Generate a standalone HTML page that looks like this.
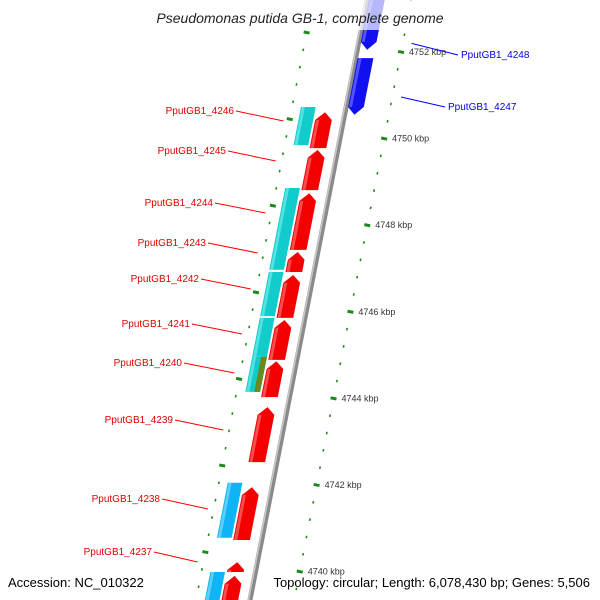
<!DOCTYPE html>
<html><head><meta charset="utf-8"><style>
html,body{margin:0;padding:0;background:#fff;overflow:hidden}
svg{display:block;font-family:"Liberation Sans","DejaVu Sans",sans-serif;overflow:hidden}
</style></head><body>
<svg id="map" width="600" height="600" viewBox="0 0 600 600">
<defs><clipPath id="clip"><rect x="0" y="0" width="600" height="600"/></clipPath></defs>
<g id="layer" clip-path="url(#clip)"></g>
<rect x="0" y="0" width="600" height="30" fill="#fff" opacity="0.7"/>
<text x="300" y="23" text-anchor="middle" font-size="14" font-style="italic" fill="#222">Pseudomonas putida GB-1, complete genome</text>
<text x="8" y="587" font-size="13" fill="#000">Accession: NC_010322</text>
<text x="590" y="587" font-size="13" fill="#000" text-anchor="end">Topology: circular; Length: 6,078,430 bp; Genes: 5,506</text>
</svg>
<script>
// data (kbp)
const redStarts = [4750.61,4749.74,4748.74,4747.38,4746.85,4745.81,4744.86,4743.80,4741.95,4740.22,4739.90];
const redEnds   = [4749.78,4748.81,4747.43,4746.92,4745.86,4744.89,4744.03,4742.53,4740.73,4739.99,4739.30];
const blueStarts = [4753.40,4751.86];
const blueEnds   = [4752.05,4750.55];
const cyanStarts = [4750.73,4748.86,4746.92,4745.86,4744.96];
const cyanEnds   = [4749.85,4746.97,4745.90,4744.96,4744.15];
const skyStarts = [4742.05,4739.99];
const skyEnds   = [4740.78,4739.30];
const redLabels = ["PputGB1_4246","PputGB1_4245","PputGB1_4244","PputGB1_4243","PputGB1_4242","PputGB1_4241","PputGB1_4240","PputGB1_4239","PputGB1_4238","PputGB1_4237"];
const redLabelY = [110,150,202,242,278,323,362,419,498,551];
const redLabelX = [234,226,213,206,199,190,182,173,160,152];
const blueLabels = ["PputGB1_4248","PputGB1_4247"];
const blueLabelY = [54,106];
const blueLabelX = [461,448];
const blueLeaderKbp = [4752.2,4750.96];
const tickKbp = [4752,4750,4748,4746,4744,4742,4740];

const NS="http://www.w3.org/2000/svg";
const L=document.getElementById('layer');
function Y(k){return 52+(4752-k)*43.3;}
function cx(y){return 367-0.195*y;}
function P(k,o){const y=Y(k);return [cx(y)+o*0.982,y];}
function el(t,a,p){const e=document.createElementNS(NS,t);for(const k in a)e.setAttribute(k,a[k]);(p||L).appendChild(e);return e;}
function pts(a){return a.map(p=>p[0].toFixed(1)+','+p[1].toFixed(1)).join(' ');}

// backbone
let b0=[cx(-10),-10],b1=[cx(610),610];
let bb=el('line',{x1:b0[0],y1:b0[1],x2:b1[0],y2:b1[1],stroke:'#8a8a8a','stroke-width':5});


let bh=el('line',{x1:b0[0]-1.5,y1:b0[1],x2:b1[0]-1.5,y2:b1[1],stroke:'#c8c8c8','stroke-width':1.5});



// tick rings
function ring(off,phase,name){
  for(let k=phase+2;k>4737.5;k-=0.4){
    const r=(phase-k)/2;
    const major=Math.abs(r-Math.round(r))<0.01;
    const d=major?3:0.8;
    const c=P(k,off);
    const t=el('line',{x1:c[0]-d*0.982,y1:c[1]-d*0.191,x2:c[0]+d*0.982,y2:c[1]+d*0.191,stroke:'#1a8a1a','stroke-width':major?3:2.5});
    
    
  }
}
ring(45,4752,'outer-ring');
ring(-55,4750.45,'inner-ring');
tickKbp.forEach(k=>{const c=P(k,45);
  const t=el('text',{x:c[0]+8,y:c[1]+3,'font-size':9,fill:'#333'});t.textContent=k+' kbp';
  
  });

// genes
function gene(s,e,o1,o2,fill,light,arrowDir,name){
  let poly;
  const mid=(o1+o2)/2, ah=0.18;
  if(arrowDir<0){poly=[P(s-ah,o1),P(s,mid),P(s-ah,o2),P(e,o2),P(e,o1)];}
  else if(arrowDir>0){poly=[P(s,o1),P(s,o2),P(e+ah,o2),P(e,mid),P(e+ah,o1)];}
  else poly=[P(s,o1),P(s,o2),P(e,o2),P(e,o1)];
  const g=el('polygon',{points:pts(poly),fill:fill});
  
  
  const s2=s-(arrowDir<0?ah:0), e2=e+(arrowDir>0?ah:0);
  const hl=el('polygon',{points:pts([P(s2,o1+1),P(s2,o1+4),P(e2,o1+4),P(e2,o1+1)]),fill:light,opacity:0.6});
  
  
}
cyanStarts.forEach((s,i)=>gene(s,cyanEnds[i],-46,-31,'#12cccc','#7ff0f0',0,'cog-box-'+i));
{const s=cyanStarts[4],e=cyanEnds[4];const o=el('polygon',{points:pts([P(s,-37),P(s,-31),P(e,-31),P(e,-37)]),fill:'#6b8a1e'});
 
 }
skyStarts.forEach((s,i)=>gene(s,skyEnds[i],-46,-31,'#0fb4f5','#8fe0ff',0,'cog-box-sky-'+i));
redStarts.forEach((s,i)=>gene(s,redEnds[i],-29,-12,'#f50000','#ff8080',-1,'gene-red-'+i));
blueStarts.forEach((s,i)=>gene(s,blueEnds[i],2,18,'#1010f0','#8080ff',1,'gene-blue-'+i));

// labels
redLabels.forEach((n,i)=>{
  const y=redLabelY[i];const tx=redLabelX[i];
  const ey=y+11;const ex=cx(ey)-61*0.982;
  const ln=el('line',{x1:tx+2,y1:y+1,x2:ex,y2:ey,stroke:'#f00','stroke-width':1});
  
  
  const t=el('text',{x:tx,y:y+4,'font-size':10,fill:'#e00000','text-anchor':'end'});t.textContent=n;
  
  });
blueLabels.forEach((n,i)=>{const g=P(blueLeaderKbp[i],54);
  const y=blueLabelY[i];const tx=blueLabelX[i];
  const ln=el('line',{x1:g[0],y1:g[1],x2:tx-3,y2:y+1,stroke:'#00f','stroke-width':1});
  
  
  const t=el('text',{x:tx,y:y+4,'font-size':10,fill:'#0000e0'});t.textContent=n;
  
  });
</script>
</body></html>
